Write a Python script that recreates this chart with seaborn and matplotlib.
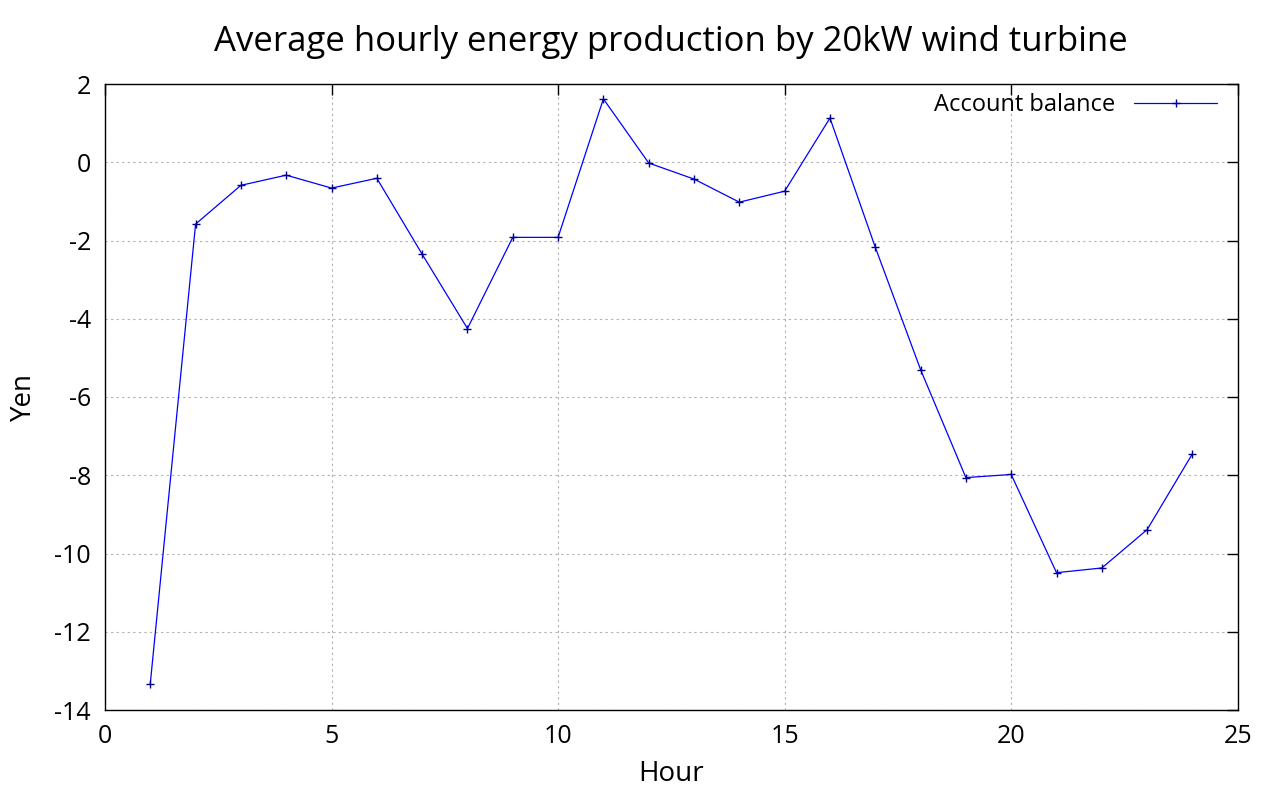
import matplotlib
matplotlib.use("Agg")
import matplotlib.pyplot as plt
import seaborn as sns
import pandas as pd

# values
hours = list(range(1, 25))
balance = [-13.33, -1.58, -0.59, -0.33, -0.66, -0.41, -2.35, -4.25,
           -1.92, -1.92, 1.62, -0.02, -0.43, -1.02, -0.74, 1.13,
           -2.17, -5.30, -8.06, -7.98, -10.49, -10.37, -9.39, -7.45]
x_ticks = [0, 5, 10, 15, 20, 25]
y_ticks = [2, 0, -2, -4, -6, -8, -10, -12, -14]

df = pd.DataFrame({"Hour": hours, "Account balance": balance})

sns.set_style("white")
plt.rcParams["font.family"] = ["Open Sans", "DejaVu Sans"]
plt.rcParams["axes.unicode_minus"] = False
plt.rcParams["text.color"] = "black"
plt.rcParams["axes.labelcolor"] = "black"

fig = plt.figure(figsize=(12.8, 8), dpi=100)
ax = fig.add_axes([0.082, 0.1125, 0.885, 0.7825])

sns.lineplot(data=df, x="Hour", y="Account balance", ax=ax, color="#0000ff",
             linewidth=0.9, marker="+", markersize=6, markeredgewidth=1,
             markeredgecolor="#00008b", label="Account balance")

ax.set_xlim(0, 25)
ax.set_ylim(-14, 2)
ax.set_xticks(x_ticks)
ax.set_yticks(y_ticks)
ax.grid(True, color="#b0b0b0", linestyle=(0, (2, 3)), linewidth=0.8)
ax.tick_params(direction="in", length=8, width=1, top=True, right=True,
               labelsize=18, pad=10, colors="black")
for s in ax.spines.values():
    s.set_color("black")
    s.set_linewidth(1)

ax.set_xlabel("Hour", fontsize=20, labelpad=8)
ax.set_ylabel("Yen", fontsize=20, labelpad=12)
ax.set_title("Average hourly energy production by 20kW wind turbine",
             fontsize=25, pad=24, color="black")

leg = ax.legend(loc="upper right", frameon=False, markerfirst=False,
                fontsize=17, handlelength=3.5, borderaxespad=0.0,
                bbox_to_anchor=(0.99, 1.0))

fig.savefig("out.png", dpi=100)
